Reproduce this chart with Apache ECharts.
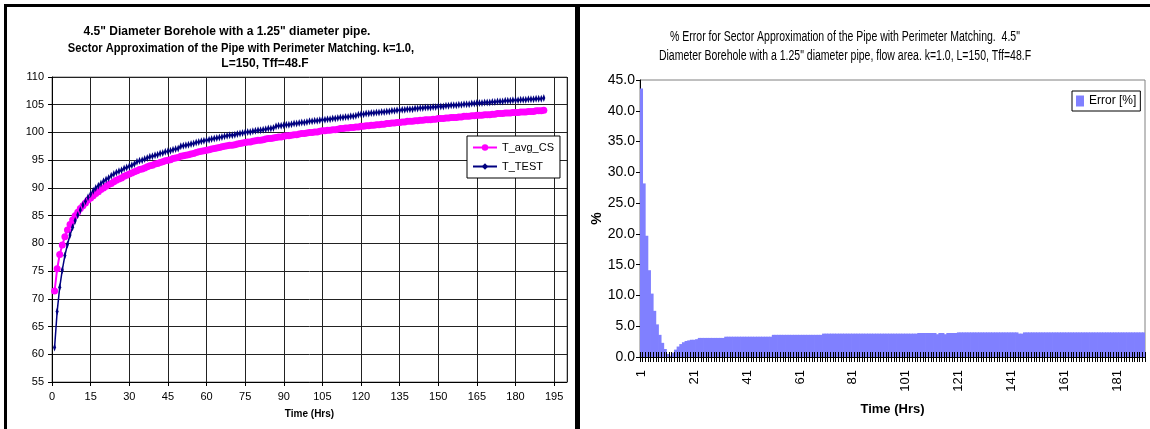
<!DOCTYPE html>
<html>
<head>
<meta charset="utf-8">
<script src="https://cdn.jsdelivr.net/npm/echarts@6/dist/echarts.min.js"></script>
<style>
    html, body {margin: 0; padding: 0; background: #fff;}
    #main {width: 1150px; height: 429px;}
</style>
</head>
<body>
<div id="main"></div>
<script>
// hours 1..191 (one reading per hour)
var hours = Array.from({length: 191}, function (v, i) { return i + 1; });

// T_avg_CS (magenta)
var tAvgCS = [
    71.4, 75.4, 78.0, 79.7, 81.2, 82.4, 83.4, 84.2, 85.0, 85.6,
    86.3, 86.8, 87.3, 87.8, 88.2, 88.6, 89.0, 89.3, 89.7, 90.0,
    90.3, 90.6, 90.8, 91.1, 91.4, 91.6, 91.8, 92.1, 92.3, 92.5,
    92.7, 92.9, 93.1, 93.3, 93.4, 93.6, 93.8, 94.0, 94.1, 94.3,
    94.4, 94.6, 94.7, 94.9, 95.0, 95.1, 95.3, 95.4, 95.5, 95.7,
    95.8, 95.9, 96.0, 96.1, 96.2, 96.4, 96.5, 96.6, 96.7, 96.8,
    96.9, 97.0, 97.1, 97.2, 97.3, 97.4, 97.5, 97.6, 97.7, 97.7,
    97.8, 97.9, 98.0, 98.1, 98.2, 98.3, 98.3, 98.4, 98.5, 98.6,
    98.6, 98.7, 98.8, 98.9, 98.9, 99.0, 99.1, 99.2, 99.2, 99.3,
    99.4, 99.4, 99.5, 99.6, 99.6, 99.7, 99.8, 99.8, 99.9, 100.0,
    100.0, 100.1, 100.1, 100.2, 100.3, 100.3, 100.4, 100.4, 100.5, 100.5,
    100.6, 100.7, 100.7, 100.8, 100.8, 100.9, 100.9, 101.0, 101.0, 101.1,
    101.1, 101.2, 101.2, 101.3, 101.3, 101.4, 101.4, 101.5, 101.5, 101.6,
    101.6, 101.7, 101.7, 101.8, 101.8, 101.9, 101.9, 102.0, 102.0, 102.0,
    102.1, 102.1, 102.2, 102.2, 102.3, 102.3, 102.3, 102.4, 102.4, 102.5,
    102.5, 102.5, 102.6, 102.6, 102.7, 102.7, 102.7, 102.8, 102.8, 102.9,
    102.9, 102.9, 103.0, 103.0, 103.1, 103.1, 103.1, 103.2, 103.2, 103.2,
    103.3, 103.3, 103.4, 103.4, 103.4, 103.5, 103.5, 103.5, 103.6, 103.6,
    103.6, 103.7, 103.7, 103.7, 103.8, 103.8, 103.8, 103.9, 103.9, 103.9, 104.0
];

// T_TEST (navy)
var tTest = [
    61.2, 67.7, 72.1, 75.2, 77.8, 79.8, 81.5, 82.9, 84.1, 85.1,
    86.0, 86.9, 87.6, 88.3, 88.9, 89.5, 90.0, 90.4, 90.8, 91.2,
    91.5, 91.8, 92.2, 92.5, 92.8, 93.0, 93.2, 93.5, 93.7, 93.9,
    94.1, 94.3, 94.7, 94.9, 95.0, 95.2, 95.4, 95.6, 95.7, 95.9,
    96.0, 96.2, 96.3, 96.5, 96.6, 96.7, 96.9, 97.0, 97.1, 97.5,
    97.6, 97.7, 97.8, 97.9, 98.0, 98.2, 98.3, 98.4, 98.5, 98.6,
    98.7, 98.8, 98.9, 99.0, 99.1, 99.2, 99.3, 99.4, 99.5, 99.5,
    99.6, 99.7, 99.8, 99.9, 100.0, 100.1, 100.1, 100.2, 100.3, 100.4,
    100.4, 100.5, 100.6, 100.7, 100.7, 100.8, 101.1, 101.2, 101.2, 101.3,
    101.4, 101.4, 101.5, 101.6, 101.6, 101.7, 101.8, 101.8, 101.9, 102.0,
    102.0, 102.1, 102.1, 102.2, 102.3, 102.3, 102.4, 102.4, 102.5, 102.5,
    102.6, 102.7, 102.7, 102.8, 102.8, 102.9, 102.9, 103.0, 103.2, 103.3,
    103.3, 103.4, 103.4, 103.5, 103.5, 103.6, 103.6, 103.7, 103.7, 103.8,
    103.8, 103.9, 103.9, 104.0, 104.0, 104.1, 104.1, 104.2, 104.2, 104.2,
    104.3, 104.3, 104.4, 104.4, 104.5, 104.5, 104.5, 104.6, 104.6, 104.7,
    104.7, 104.7, 104.8, 104.8, 104.9, 104.9, 104.9, 105.0, 105.0, 105.1,
    105.1, 105.1, 105.2, 105.2, 105.3, 105.3, 105.3, 105.4, 105.4, 105.4,
    105.5, 105.5, 105.6, 105.6, 105.6, 105.7, 105.7, 105.7, 105.8, 105.8,
    105.8, 105.9, 105.9, 105.9, 106.0, 106.0, 106.0, 106.1, 106.1, 106.1, 106.2
];

// Error [%] bars, right chart
var errorPct = [
    43.6, 28.2, 19.7, 14.1, 10.3, 7.5, 5.3, 3.6, 2.3, 1.3,
    0.5, 0.2, 0.7, 1.2, 1.7, 2.1, 2.4, 2.6, 2.7, 2.8,
    2.8, 2.9, 3.1, 3.1, 3.1, 3.1, 3.1, 3.1, 3.1, 3.1,
    3.1, 3.1, 3.3, 3.3, 3.3, 3.3, 3.3, 3.3, 3.3, 3.3,
    3.3, 3.3, 3.3, 3.3, 3.3, 3.3, 3.3, 3.3, 3.3, 3.3,
    3.6, 3.6, 3.6, 3.6, 3.6, 3.6, 3.6, 3.6, 3.6, 3.6,
    3.6, 3.6, 3.6, 3.6, 3.6, 3.6, 3.6, 3.6, 3.6, 3.8,
    3.8, 3.8, 3.8, 3.8, 3.8, 3.8, 3.8, 3.8, 3.8, 3.8,
    3.8, 3.8, 3.8, 3.8, 3.8, 3.8, 3.8, 3.8, 3.8, 3.8,
    3.8, 3.8, 3.8, 3.8, 3.8, 3.8, 3.8, 3.8, 3.8, 3.8,
    3.8, 3.8, 3.8, 3.8, 3.8, 3.9, 3.9, 3.9, 3.9, 3.9,
    3.9, 3.9, 3.7, 3.9, 3.9, 3.7, 3.9, 3.9, 3.9, 3.9,
    4.0, 4.0, 4.0, 4.0, 4.0, 4.0, 4.0, 4.0, 4.0, 4.0,
    4.0, 4.0, 4.0, 4.0, 4.0, 4.0, 4.0, 4.0, 4.0, 4.0,
    4.0, 4.0, 4.0, 3.8, 3.8, 4.0, 4.0, 4.0, 4.0, 4.0,
    4.0, 4.0, 4.0, 4.0, 4.0, 4.0, 4.0, 4.0, 4.0, 4.0,
    4.0, 4.0, 4.0, 4.0, 4.0, 4.0, 4.0, 4.0, 4.0, 4.0,
    4.0, 4.0, 4.0, 4.0, 4.0, 4.0, 4.0, 4.0, 4.0, 4.0,
    4.0, 4.0, 4.0, 4.0, 4.0, 4.0, 4.0, 4.0, 4.0, 4.0, 4.0
];

var leftTitle = [
    '4.5" Diameter Borehole with a 1.25" diameter pipe.',
    'Sector Approximation of the Pipe with Perimeter Matching. k=1.0,',
    'L=150, Tff=48.F'
];
var rightTitle = [
    '% Error for Sector Approximation of the Pipe with Perimeter Matching.  4.5"',
    'Diameter Borehole with a 1.25" diameter pipe, flow area. k=1.0, L=150, Tff=48.F'
];

var arial = '"Liberation Sans", Arial, sans-serif';

var chart = echarts.init(document.getElementById('main'));

function pairs (ys) {
    return ys.map(function (y, i) { return [hours[i], y]; });
}

function titleText (text, x, y, font, sx) {
    return {
        type: 'text', x: x, y: y, scaleX: sx || 1,
        style: {text: text, font: font, textAlign: 'center', textVerticalAlign: 'middle', fill: '#000'}
    };
}

chart.setOption({
    animation: false,
    backgroundColor: '#fff',
    graphic: [
        // panel frames
        {type: 'rect', shape: {x: 4, y: 4, width: 1146, height: 3}, style: {fill: '#000'}},
        {type: 'rect', shape: {x: 4, y: 4, width: 3, height: 425}, style: {fill: '#000'}},
        {type: 'rect', shape: {x: 575, y: 4, width: 5, height: 425}, style: {fill: '#000'}},
        titleText(leftTitle[0], 227, 32, 'bold 12px ' + arial),
        titleText(leftTitle[1], 241, 49, 'bold 12px ' + arial, 0.93),
        titleText(leftTitle[2], 265, 64, 'bold 12px ' + arial),
        titleText(rightTitle[0], 845, 37, '14px ' + arial, 0.75),
        titleText(rightTitle[1], 845, 56, '14px ' + arial, 0.75)
    ],
    legend: [
        {
            data: ['T_avg_CS', 'T_TEST'],
            orient: 'vertical',
            left: 467,
            top: 136,
            padding: [6, 6, 6, 5],
            itemGap: 8,
            itemWidth: 24,
            itemHeight: 8,
            backgroundColor: '#fff',
            borderColor: '#000',
            borderWidth: 1,
            borderRadius: 0,
            textStyle: {fontFamily: arial, fontSize: 11, color: '#000'}
        },
        {
            data: [{name: 'Error [%]', icon: 'rect'}],
            left: 1072,
            top: 91,
            padding: [4, 4, 4, 4],
            itemWidth: 8,
            itemHeight: 11,
            itemGap: 3,
            backgroundColor: '#fff',
            borderColor: '#000',
            borderWidth: 1,
            borderRadius: 0,
            textStyle: {fontFamily: arial, fontSize: 12, color: '#000'}
        }
    ],
    grid: [
        {left: 52, top: 77, width: 515, height: 305, show: true, borderColor: '#808080', borderWidth: 1},
        {left: 640, top: 80, width: 505, height: 277, show: true, borderColor: '#808080', borderWidth: 1}
    ],
    xAxis: [
        {
            gridIndex: 0,
            type: 'value',
            min: 0,
            max: 200,
            interval: 15,
            name: 'Time (Hrs)',
            nameLocation: 'middle',
            nameGap: 27,
            nameTextStyle: {fontFamily: arial, fontSize: 10, fontWeight: 'bold', color: '#000'},
            axisLine: {show: true, lineStyle: {color: '#000', width: 1}},
            axisTick: {show: true, length: 4, lineStyle: {color: '#000'}},
            axisLabel: {fontFamily: arial, fontSize: 11, color: '#000', margin: 9, showMaxLabel: false},
            splitLine: {show: true, lineStyle: {color: '#222', width: 1}}
        },
        {
            gridIndex: 1,
            type: 'category',
            data: hours,
            name: 'Time (Hrs)',
            nameLocation: 'middle',
            nameGap: 46,
            nameTextStyle: {fontFamily: arial, fontSize: 13, fontWeight: 'bold', color: '#000'},
            axisLine: {show: true, lineStyle: {color: '#000', width: 1}},
            axisTick: {show: true, interval: 0, length: 5, lineStyle: {color: '#000'}},
            axisLabel: {interval: 19, rotate: 90, fontFamily: arial, fontSize: 13, color: '#000', margin: 13},
            splitLine: {show: false}
        },
        {
            gridIndex: 1,
            type: 'category',
            data: hours,
            position: 'bottom',
            z: 5,
            axisLine: {show: false},
            axisTick: {show: true, interval: 0, inside: true, length: 5, lineStyle: {color: '#000'}},
            axisLabel: {show: false},
            splitLine: {show: false}
        }
    ],
    yAxis: [
        {
            gridIndex: 0,
            type: 'value',
            min: 55,
            max: 110,
            interval: 5,
            axisLine: {show: true, lineStyle: {color: '#000', width: 1}},
            axisTick: {show: true, length: 4, lineStyle: {color: '#000'}},
            axisLabel: {fontFamily: arial, fontSize: 11, color: '#000', margin: 8},
            splitLine: {show: true, lineStyle: {color: '#222', width: 1}}
        },
        {
            gridIndex: 1,
            type: 'value',
            min: 0,
            max: 45,
            interval: 5,
            name: '%',
            nameLocation: 'middle',
            nameGap: 32,
            nameTextStyle: {fontFamily: arial, fontSize: 14, fontWeight: 'bold', color: '#000'},
            axisLine: {show: true, lineStyle: {color: '#000', width: 1}},
            axisTick: {show: true, length: 4, lineStyle: {color: '#000'}},
            axisLabel: {fontFamily: arial, fontSize: 14, color: '#000', margin: 5, formatter: function (v) { return v.toFixed(1); }},
            splitLine: {show: false}
        }
    ],
    series: [
        {
            name: 'T_avg_CS',
            type: 'line',
            xAxisIndex: 0,
            yAxisIndex: 0,
            data: pairs(tAvgCS),
            symbol: 'circle',
            symbolSize: 7,
            color: '#FF00FF',
            lineStyle: {color: '#FF00FF', width: 2}
        },
        {
            name: 'T_TEST',
            type: 'line',
            xAxisIndex: 0,
            yAxisIndex: 0,
            data: pairs(tTest),
            symbol: 'diamond',
            symbolSize: [3, 8],
            color: '#000080',
            lineStyle: {color: '#000080', width: 1.5}
        },
        {
            name: 'Error [%]',
            type: 'bar',
            xAxisIndex: 1,
            yAxisIndex: 1,
            data: errorPct,
            barWidth: 3.4,
            itemStyle: {color: '#8080FF'}
        }
    ]
});
</script>
</body>
</html>
